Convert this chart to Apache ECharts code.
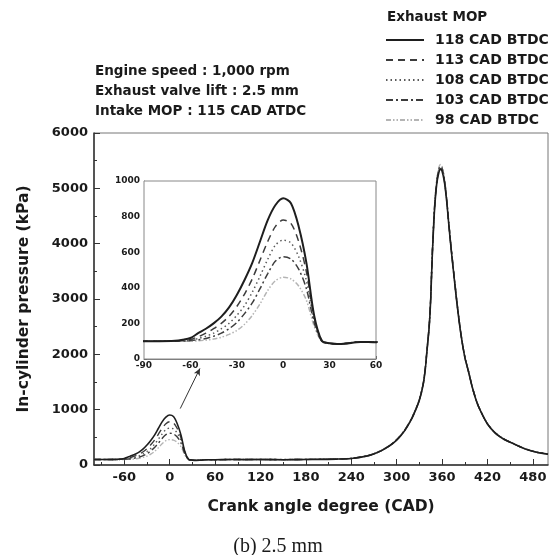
<!DOCTYPE html>
<html>
<head>
<meta charset="utf-8">
<script src="https://cdn.jsdelivr.net/npm/echarts@6/dist/echarts.min.js"></script>
<style>
  html, body { margin: 0; padding: 0; background: #fff; }
  #chart { width: 556px; height: 555px; }
</style>
</head>
<body>
<div id="chart"></div>
<script>
// Crank angle positions (CAD) shared by every pressure trace
const cad = [-100, -90, -80, -70, -65, -60, -55, -50, -45, -40, -35, -30, -25, -20, -15, -10, -5, 0, 5, 10,
  15, 20, 25, 30, 35, 40, 50, 60, 80, 100, 120, 150, 180, 200, 220, 240, 260, 270, 280, 290,
  300, 310, 320, 325, 330, 335, 338, 340, 343, 345, 347, 350, 353, 356, 358, 360, 363, 366, 369, 372,
  376, 380, 385, 390, 395, 400, 405, 410, 420, 430, 440, 455, 470, 485, 500];

// In-cylinder pressure (kPa) for each exhaust MOP
const p118 = [100, 100, 100, 102, 108, 118, 145, 170, 200, 238, 290, 360, 444, 540, 660, 780, 865, 903, 875, 745,
  540, 245, 102, 88, 84, 86, 96, 94, 100, 98, 100, 96, 100, 102, 106, 118, 160, 200, 260, 340,
  450, 610, 840, 990, 1170, 1450, 1750, 2050, 2500, 3000, 3750, 4600, 5080, 5300, 5340, 5310, 5120, 4780, 4330, 3900,
  3380, 2880, 2350, 1950, 1680, 1400, 1170, 1000, 740, 580, 480, 380, 290, 230, 195];
const p113 = [100, 100, 100, 101, 104, 110, 125, 145, 170, 200, 240, 295, 365, 450, 555, 660, 745, 781, 762, 660,
  490, 235, 102, 88, 84, 87, 96, 95, 100, 99, 100, 97, 100, 102, 106, 119, 160, 202, 262, 342,
  452, 612, 842, 995, 1175, 1455, 1760, 2060, 2510, 3010, 3770, 4620, 5100, 5320, 5360, 5330, 5140, 4790, 4340, 3910,
  3390, 2890, 2360, 1955, 1685, 1405, 1172, 1002, 742, 582, 481, 381, 291, 231, 196];
const p108 = [100, 100, 100, 100, 102, 105, 115, 128, 145, 170, 200, 245, 300, 375, 465, 560, 640, 668, 652, 575,
  440, 220, 100, 88, 85, 87, 97, 95, 100, 98, 101, 97, 101, 102, 107, 120, 162, 203, 263, 344,
  455, 615, 845, 1000, 1180, 1460, 1770, 2070, 2520, 3020, 3790, 4640, 5120, 5340, 5380, 5350, 5160, 4800, 4350, 3920,
  3400, 2900, 2365, 1960, 1690, 1408, 1175, 1004, 744, 583, 482, 382, 292, 232, 197];
const p103 = [100, 100, 100, 100, 101, 103, 108, 115, 128, 145, 170, 205, 255, 315, 395, 480, 550, 575, 562, 505,
  395, 205, 99, 88, 85, 88, 97, 96, 100, 99, 100, 98, 101, 103, 107, 121, 163, 205, 265, 346,
  458, 618, 850, 1005, 1185, 1468, 1780, 2080, 2530, 3040, 3810, 4660, 5140, 5360, 5400, 5370, 5180, 4820, 4360, 3930,
  3410, 2910, 2370, 1965, 1695, 1410, 1178, 1006, 746, 585, 483, 383, 293, 233, 198];
const p98 = [100, 100, 100, 100, 100, 100, 102, 106, 112, 122, 138, 160, 195, 245, 310, 385, 440, 459, 450, 410,
  330, 185, 98, 88, 86, 88, 97, 96, 101, 99, 100, 98, 101, 103, 108, 122, 165, 207, 268, 348,
  460, 620, 855, 1010, 1190, 1475, 1790, 2090, 2545, 3060, 3830, 4680, 5160, 5390, 5430, 5400, 5200, 4840, 4370, 3940,
  3420, 2920, 2375, 1970, 1700, 1412, 1180, 1008, 748, 586, 484, 384, 294, 234, 199];

const seriesNames = ['118 CAD BTDC', '113 CAD BTDC', '108 CAD BTDC', '103 CAD BTDC', '98 CAD BTDC'];
const seriesValues = [p118, p113, p108, p103, p98];

// Main axis tick labels and tick positions
const mainXLabels = [-60, 0, 60, 120, 180, 240, 300, 360, 420, 480];
const mainXMinor = [-90, -30, 30, 90, 150, 210, 270, 330, 390, 450];

// Line look of each trace
const traceStyles = [
  { color: '#1e1e1e', type: 'solid', width: 1.6, insetWidth: 2 },
  { color: '#3c3c3c', type: [7, 5], width: 1.4, insetWidth: 1.5 },
  { color: '#5a5a5a', type: [1.5, 3], width: 1.4, insetWidth: 1.5 },
  { color: '#3c3c3c', type: [7, 3, 2, 3], width: 1.4, insetWidth: 1.5 },
  { color: '#b4b4b4', type: [5, 2, 1.5, 2, 1.5, 2], width: 1.4, insetWidth: 1.5 }
];

const FONT = '"DejaVu Sans", Verdana, sans-serif';
const INK = '#1a1a1a';
const plain = v => String(v);

function pairs(vals) {
  return cad.map((x, i) => [x, vals[i]]);
}

const series = [];
seriesNames.forEach((name, i) => {
  const st = traceStyles[i];
  const main = {
    name: name,
    type: 'line',
    xAxisIndex: 0,
    yAxisIndex: 0,
    data: pairs(seriesValues[i]),
    symbol: 'none',
    smooth: 0.3,
    lineStyle: { color: st.color, type: st.type, width: st.width },
    itemStyle: { color: st.color },
    z: 10 - i
  };
  if (i === 0) {
    // pointer from the valve-overlap bump up to the zoomed view
    main.markLine = {
      silent: true,
      symbol: ['none', 'arrow'],
      symbolSize: [5, 7],
      label: { show: false },
      lineStyle: { color: '#333', type: 'solid', width: 1 },
      data: [[{ coord: [14, 1020] }, { coord: [40, 1745] }]]
    };
  }
  series.push(main);
  series.push({
    name: name,
    type: 'line',
    xAxisIndex: 2,
    yAxisIndex: 1,
    data: pairs(seriesValues[i]),
    symbol: 'none',
    smooth: 0.3,
    clip: true,
    lineStyle: { color: st.color, type: st.type, width: st.insetWidth },
    itemStyle: { color: st.color },
    z: 20 - i
  });
});

const chart = echarts.init(document.getElementById('chart'), null, { renderer: 'canvas' });
chart.setOption({
  animation: false,
  backgroundColor: '#ffffff',
  grid: [
    { left: 94, right: 8, top: 133, bottom: 90, show: true, borderColor: '#777', borderWidth: 1, backgroundColor: 'transparent' },
    { left: 144, top: 181, width: 232, height: 178, show: true, borderColor: '#888', borderWidth: 1, backgroundColor: '#fff', z: 5 }
  ],
  legend: {
    data: seriesNames,
    orient: 'vertical',
    left: 385,
    top: 33,
    padding: 0,
    itemWidth: 38,
    itemHeight: 12,
    itemGap: 6,
    // line samples only, no point marker in the middle
    itemStyle: { opacity: 0 },
    textStyle: { fontFamily: FONT, fontWeight: 'bold', fontSize: 14, color: INK, padding: [0, 0, 0, 6] }
  },
  xAxis: [
    {
      gridIndex: 0, type: 'value', min: -100, max: 500,
      name: 'Crank angle degree (CAD)', nameLocation: 'middle', nameGap: 34,
      nameTextStyle: { fontFamily: FONT, fontWeight: 'bold', fontSize: 15.5, color: INK },
      axisLine: { show: true, onZero: false, lineStyle: { color: '#333', width: 1.5 } },
      axisTick: { show: true, inside: true, length: 6, customValues: mainXLabels, lineStyle: { color: '#333' } },
      axisLabel: { customValues: mainXLabels, formatter: plain, fontFamily: FONT, fontWeight: 'bold', fontSize: 13, color: INK, margin: 6 },
      splitLine: { show: false }
    },
    {
      gridIndex: 0, type: 'value', min: -100, max: 500, position: 'bottom',
      axisLine: { show: false, onZero: false },
      axisTick: { show: true, inside: true, length: 3, customValues: mainXMinor, lineStyle: { color: '#333' } },
      axisLabel: { show: false },
      splitLine: { show: false }
    },
    {
      gridIndex: 1, type: 'value', min: -90, max: 60, interval: 30,
      axisLine: { show: true, onZero: false, lineStyle: { color: '#777', width: 1 } },
      axisTick: { show: true, inside: true, length: 3, lineStyle: { color: '#555' } },
      minorTick: { show: true, splitNumber: 2, length: 2, lineStyle: { color: '#555' } },
      axisLabel: { formatter: plain, fontFamily: FONT, fontWeight: 'bold', fontSize: 9, color: INK, margin: 2 },
      splitLine: { show: false }
    }
  ],
  yAxis: [
    {
      gridIndex: 0, type: 'value', min: 0, max: 6000, interval: 1000,
      name: 'In-cylinder pressure (kPa)', nameLocation: 'middle', nameGap: 62,
      nameTextStyle: { fontFamily: FONT, fontWeight: 'bold', fontSize: 15.5, color: INK },
      axisLine: { show: true, onZero: false, lineStyle: { color: '#333', width: 1.5 } },
      axisTick: { show: true, inside: true, length: 6, lineStyle: { color: '#333' } },
      minorTick: { show: true, splitNumber: 2, length: 3, lineStyle: { color: '#333' } },
      axisLabel: { formatter: plain, fontFamily: FONT, fontWeight: 'bold', fontSize: 13, color: INK, margin: 6 },
      splitLine: { show: false }
    },
    {
      gridIndex: 1, type: 'value', min: 0, max: 1000, interval: 200,
      axisLine: { show: true, onZero: false, lineStyle: { color: '#777', width: 1 } },
      axisTick: { show: true, inside: true, length: 3, lineStyle: { color: '#555' } },
      minorTick: { show: true, splitNumber: 2, length: 2, lineStyle: { color: '#555' } },
      axisLabel: { formatter: plain, fontFamily: FONT, fontWeight: 'bold', fontSize: 9, color: INK, margin: 4 },
      splitLine: { show: false }
    }
  ],
  graphic: [
    { type: 'text', left: 387, top: 10, style: { text: 'Exhaust MOP', font: 'bold 13.5px ' + FONT, fill: INK } },
    { type: 'text', left: 95, top: 64, style: { text: 'Engine speed : 1,000 rpm', font: 'bold 13.5px ' + FONT, fill: INK } },
    { type: 'text', left: 95, top: 84, style: { text: 'Exhaust valve lift : 2.5 mm', font: 'bold 13.5px ' + FONT, fill: INK } },
    { type: 'text', left: 95, top: 104, style: { text: 'Intake MOP : 115 CAD ATDC', font: 'bold 13.5px ' + FONT, fill: INK } },
    { type: 'text', left: 'center', top: 537, style: { text: '(b) 2.5 mm', font: '20px "Liberation Serif", "Times New Roman", serif', fill: INK } }
  ],
  series: series
});
</script>
</body>
</html>
